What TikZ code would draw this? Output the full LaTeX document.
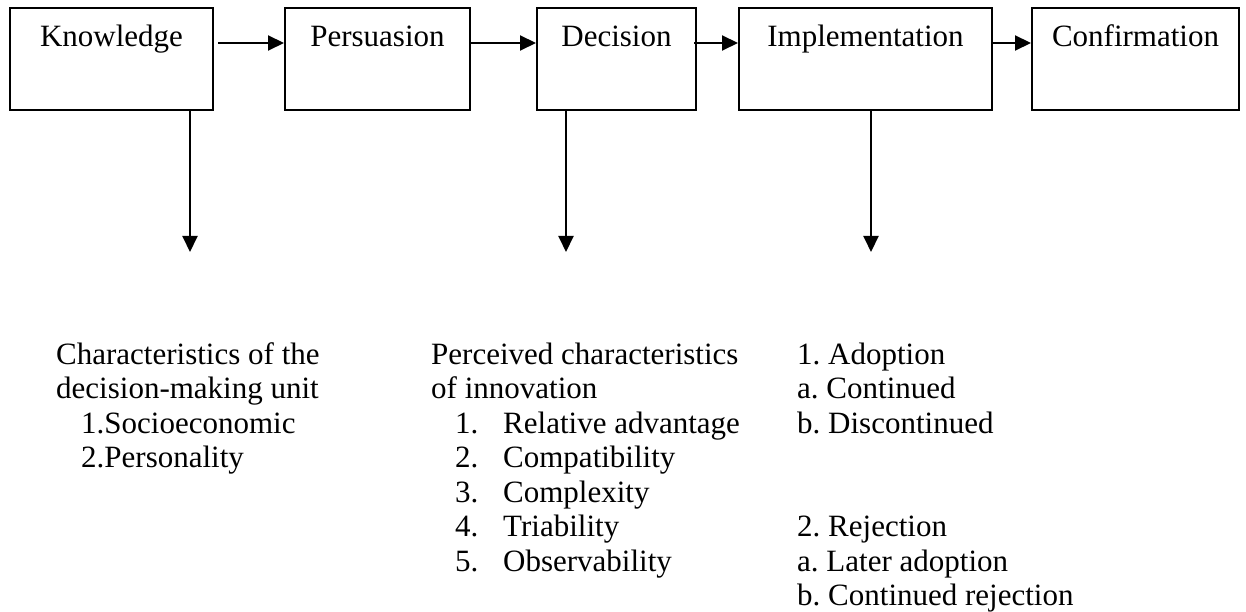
\documentclass[tikz,border=0pt]{standalone}
\usepackage{fontspec}
\setmainfont{Liberation Serif}
\usetikzlibrary{arrows.meta}
\frenchspacing
\begin{document}
\begin{tikzpicture}[x=1pt,y=-1pt,
  stage/.style={draw, line width=2pt, inner sep=0pt, anchor=base,
    text height=39pt, text depth=63pt, font=\fontsize{31}{34.5}\selectfont},
  flow/.style={line width=2pt, -{Triangle[length=16pt,width=15pt]}},
  notes/.style={anchor=base west, inner sep=0pt, font=\fontsize{31}{34.5}\selectfont}]
\fill[white] (0,0) rectangle (1246,612);
\useasboundingbox (0,0) rectangle (1246,612);

% the five stages
\node[stage, minimum width=203pt] (know) at (111.5,47) {Knowledge};
\node[stage, minimum width=185pt] (pers) at (377.5,47) {Persuasion};
\node[stage, minimum width=159pt] (deci) at (616.5,47) {Decision};
\node[stage, minimum width=253pt] (impl) at (865.5,47) {Implementation};
\node[stage, minimum width=207pt] (conf) at (1135.5,47) {Confirmation};

% flow between stages
\draw[flow, shorten <=4pt] ([yshift=16pt]know.east) -- ([yshift=16pt]pers.west);
\draw[flow] ([yshift=16pt]pers.east) -- ([yshift=16pt]deci.west);
\draw[flow, shorten <=-3pt] ([yshift=16pt]deci.east) -- ([yshift=16pt]impl.west);
\draw[flow, shorten <=-2pt] ([yshift=16pt]impl.east) -- ([yshift=16pt]conf.west);

% downward arrows
\coordinate (kd) at (190,252);
\coordinate (dd) at (566,252);
\coordinate (id) at (871,252);
\draw[flow] (kd |- know.south) -- (kd);
\draw[flow] (dd |- deci.south) -- (dd);
\draw[flow] (id |- impl.south) -- (id);

% explanatory lists
\node[notes] (unit) at (56,364) {\begin{tabular}[t]{@{}l@{}}
Characteristics of the\\
decision-making unit\\
\hspace{25pt}1.Socioeconomic\\
\hspace{25pt}2.Personality
\end{tabular}};

\node[notes] (attr) at (431,364) {\begin{tabular}[t]{@{}l@{}}
Perceived characteristics\\
of innovation\\
\hspace{24pt}\makebox[48pt][l]{1.}Relative advantage\\
\hspace{24pt}\makebox[48pt][l]{2.}Compatibility\\
\hspace{24pt}\makebox[48pt][l]{3.}Complexity\\
\hspace{24pt}\makebox[48pt][l]{4.}Triability\\
\hspace{24pt}\makebox[48pt][l]{5.}Observability
\end{tabular}};

\node[notes] (outc) at (797,364) {\begin{tabular}[t]{@{}l@{}}
1. Adoption\\
a. Continued\\
b. Discontinued\\
\\
\\
2. Rejection\\
a. Later adoption\\
b. Continued rejection
\end{tabular}};
\end{tikzpicture}
\end{document}
